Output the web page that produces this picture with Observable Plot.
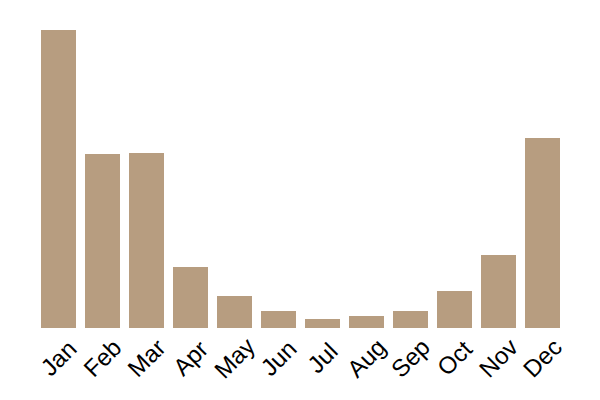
<!DOCTYPE html>
<html>
<head>
<meta charset="utf-8">
<script src="https://cdn.jsdelivr.net/npm/d3@7"></script>
<script src="https://cdn.jsdelivr.net/npm/@observablehq/plot@0.6"></script>
<style>
  html, body { margin: 0; padding: 0; background: #fff; }
</style>
</head>
<body>
<div id="chart"></div>
<script>
const months = ["Jan","Feb","Mar","Apr","May","Jun","Jul","Aug","Sep","Oct","Nov","Dec"];
const values = [298, 174, 175, 61, 32, 17, 9, 12, 17, 37, 73, 190];

const data = months.map((m, i) => ({month: m, value: values[i]}));

const chart = Plot.plot({
  width: 600,
  height: 400,
  marginTop: 30,
  marginBottom: 72,
  marginLeft: 32,
  marginRight: 31,
  style: {fontFamily: "'Liberation Sans', Arial, sans-serif", fontSize: "24px", background: "#fff"},
  x: {domain: months, padding: 0.2, label: null},
  y: {domain: [0, 298], axis: null},
  marks: [
    Plot.barY(data, {x: "month", y: "value", fill: "#b79d80"}),
    Plot.axisX({
      tickSize: 0,
      tickRotate: -45,
      textAnchor: "middle",
      fontSize: 24,
      fill: "#000",
      tickPadding: 30,
      label: null
    })
  ]
});
document.getElementById("chart").appendChild(chart);
</script>
</body>
</html>
